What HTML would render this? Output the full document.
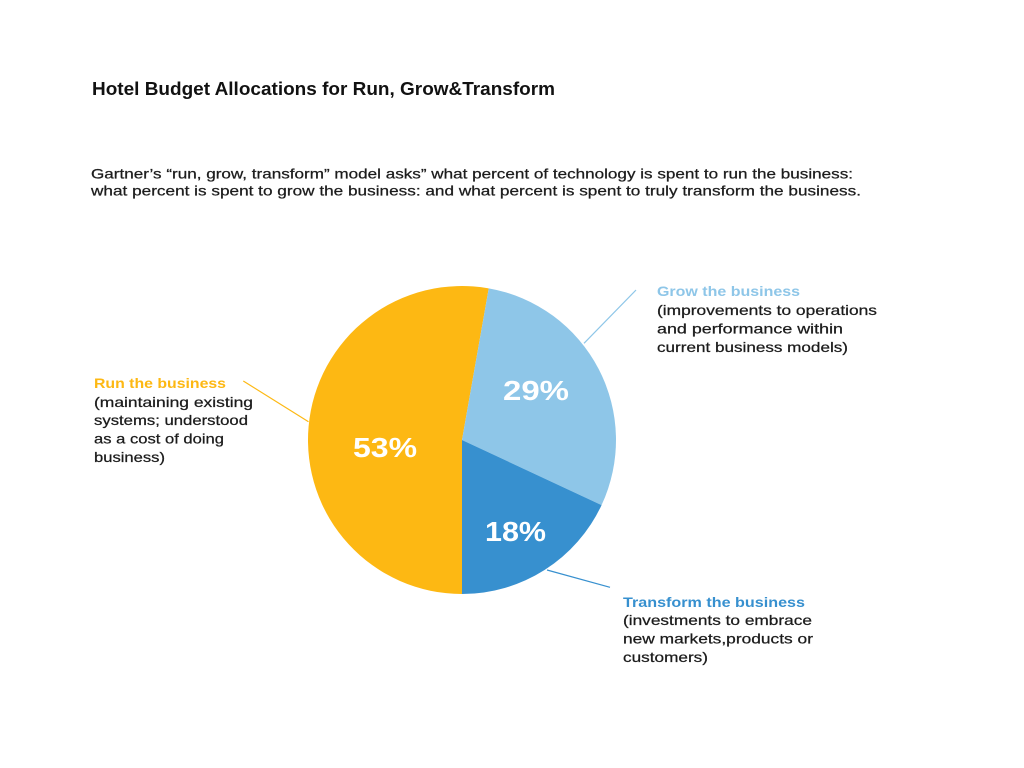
<!DOCTYPE html>
<html>
<head>
<meta charset="utf-8">
<style>
  html, body { margin: 0; padding: 0; background: #ffffff; }
  svg { display: block; }
  text { font-family: "Liberation Sans", "DejaVu Sans", sans-serif; }
  .body { fill: #1c1c1c; font-size: 14px; stroke: #1c1c1c; stroke-width: 0.25px; }
  .pct { fill: #ffffff; font-size: 28px; font-weight: bold; }
</style>
</head>
<body>
<svg width="1024" height="768" viewBox="0 0 1024 768" xmlns="http://www.w3.org/2000/svg">
  <rect x="0" y="0" width="1024" height="768" fill="#ffffff"/>

  <!-- Title -->
  <text x="92" y="95" font-size="18" font-weight="bold" fill="#111111" textLength="463" lengthAdjust="spacingAndGlyphs">Hotel Budget Allocations for Run, Grow&amp;Transform</text>

  <!-- Paragraph -->
  <text class="body" x="91" y="178.5" textLength="762" lengthAdjust="spacingAndGlyphs">Gartner’s “run, grow, transform” model asks” what percent of technology is spent to run the business:</text>
  <text class="body" x="91" y="195.5" textLength="770" lengthAdjust="spacingAndGlyphs">what percent is spent to grow the business: and what percent is spent to truly transform the business.</text>

  <!-- Pie -->
  <path d="M462,440 L462,594 A154,154 0 1 1 488.74,288.34 Z" fill="#FDB813"/>
  <path d="M462,440 L488.74,288.34 A154,154 0 0 1 601.57,505.08 Z" fill="#8EC6E8"/>
  <path d="M462,440 L601.57,505.08 A154,154 0 0 1 462,594 Z" fill="#3790CF"/>

  <!-- Leader lines -->
  <line x1="243.3" y1="381" x2="308.5" y2="421.7" stroke="#FDB813" stroke-width="1.2"/>
  <line x1="636" y1="290" x2="584" y2="343.3" stroke="#8EC6E8" stroke-width="1.2"/>
  <line x1="547" y1="570" x2="610" y2="587.3" stroke="#3790CF" stroke-width="1.2"/>

  <!-- Percentages -->
  <text class="pct" x="353" y="457" textLength="64" lengthAdjust="spacingAndGlyphs">53%</text>
  <text class="pct" x="503" y="400" textLength="66" lengthAdjust="spacingAndGlyphs">29%</text>
  <text class="pct" x="485" y="541" textLength="61" lengthAdjust="spacingAndGlyphs">18%</text>

  <!-- Run label -->
  <text x="94" y="388" font-size="14" font-weight="bold" fill="#FDB813" textLength="132" lengthAdjust="spacingAndGlyphs">Run the business</text>
  <text class="body" x="94" y="407" textLength="159" lengthAdjust="spacingAndGlyphs">(maintaining existing</text>
  <text class="body" x="94" y="425" textLength="154" lengthAdjust="spacingAndGlyphs">systems; understood</text>
  <text class="body" x="94" y="443.5" textLength="130" lengthAdjust="spacingAndGlyphs">as a cost of doing</text>
  <text class="body" x="94" y="462" textLength="71" lengthAdjust="spacingAndGlyphs">business)</text>

  <!-- Grow label -->
  <text x="657" y="296" font-size="14" font-weight="bold" fill="#8EC6E8" textLength="143" lengthAdjust="spacingAndGlyphs">Grow the business</text>
  <text class="body" x="657" y="315" textLength="220" lengthAdjust="spacingAndGlyphs">(improvements to operations</text>
  <text class="body" x="657" y="333.5" textLength="186" lengthAdjust="spacingAndGlyphs">and performance within</text>
  <text class="body" x="657" y="352" textLength="191" lengthAdjust="spacingAndGlyphs">current business models)</text>

  <!-- Transform label -->
  <text x="623" y="607" font-size="14" font-weight="bold" fill="#3790CF" textLength="182" lengthAdjust="spacingAndGlyphs">Transform the business</text>
  <text class="body" x="623" y="625" textLength="189" lengthAdjust="spacingAndGlyphs">(investments to embrace</text>
  <text class="body" x="623" y="643.5" textLength="190" lengthAdjust="spacingAndGlyphs">new markets,products or</text>
  <text class="body" x="623" y="662" textLength="85" lengthAdjust="spacingAndGlyphs">customers)</text>
</svg>
</body>
</html>
